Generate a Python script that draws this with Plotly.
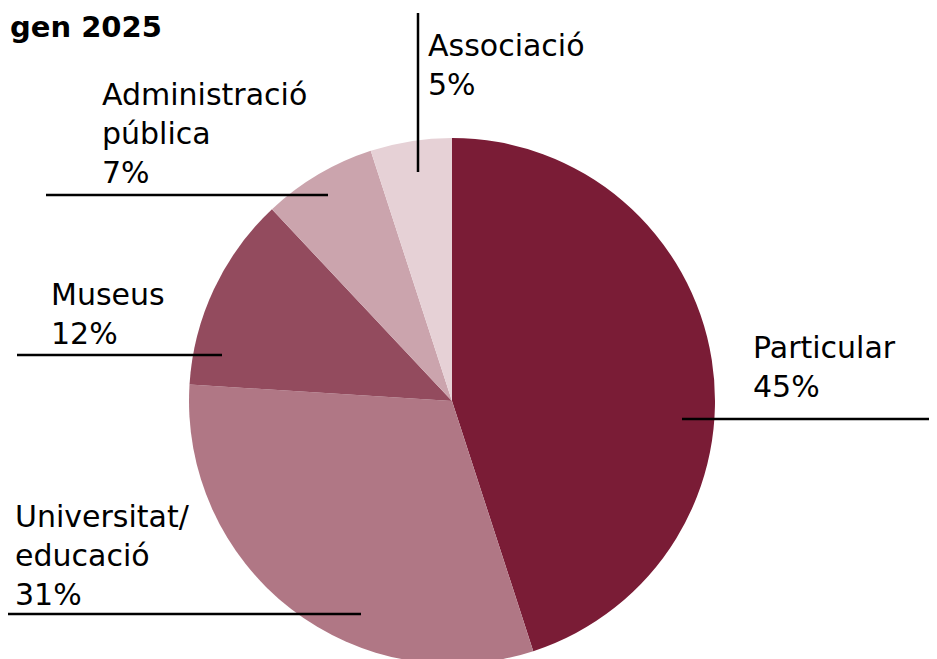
import plotly.graph_objects as go

W, H = 937, 659
PAGE_OFF = 8  # body margin of the html page

labels = ["Particular", "Universitat/<br>educació", "Museus", "Administració<br>pública", "Associació"]
values = [45, 31, 12, 7, 5]
colors = ["#7a1c36", "#b07785", "#934b5e", "#cba4ad", "#e6d1d6"]

# label text anchor (left x, top y) and leader line (x0, y0, x1, y1), page pixels
label_pos = [(743, 320), (5, 489), (41, 267), (92, 67), (418, 18)]
leaders = [(682, 419, 945, 419), (7, 614, 361, 614), (17, 355, 222, 355),
           (46, 195, 328, 195), (418, 13, 418, 172)]


def px_x(x):
    return x / W


def px_y(y):
    return 1 - y / H


def pg_x(x):
    return px_x(x - PAGE_OFF)


def pg_y(y):
    return px_y(y - PAGE_OFF)


cx, cy, r = 452, 401, 263
fig = go.Figure(go.Pie(
    labels=labels,
    values=values,
    sort=False,
    direction="clockwise",
    rotation=0,
    marker=dict(colors=colors, line=dict(width=0)),
    textinfo="none",
    hoverinfo="label+percent",
    domain=dict(x=[pg_x(cx - r), pg_x(cx + r)], y=[pg_y(cy + r), pg_y(cy - r)]),
    showlegend=False,
))

font = dict(family="DejaVu Sans, Arial, sans-serif", size=30, color="#000000")

for lab, val, (lx, ly), (x0, y0, x1, y1) in zip(labels, values, label_pos, leaders):
    fig.add_annotation(
        x=px_x(lx), y=px_y(ly), xref="paper", yref="paper",
        xanchor="left", yanchor="top", align="left",
        text=f"{lab}<br>{val}%", showarrow=False, font=font,
    )
    fig.add_shape(type="line", xref="paper", yref="paper",
                  x0=pg_x(x0), y0=pg_y(y0), x1=pg_x(x1), y1=pg_y(y1),
                  line=dict(color="#000000", width=2.5))

fig.add_annotation(
    x=0, y=1, xref="paper", yref="paper", xanchor="left", yanchor="top",
    text="<b>gen 2025</b>", showarrow=False,
    font=dict(family="DejaVu Sans, Arial, sans-serif", size=29, color="#000000"),
)

fig.update_layout(
    width=W, height=H, autosize=False,
    margin=dict(l=0, r=0, t=0, b=0),
    paper_bgcolor="#ffffff", plot_bgcolor="#ffffff",
)

fig.write_html("out.html")
